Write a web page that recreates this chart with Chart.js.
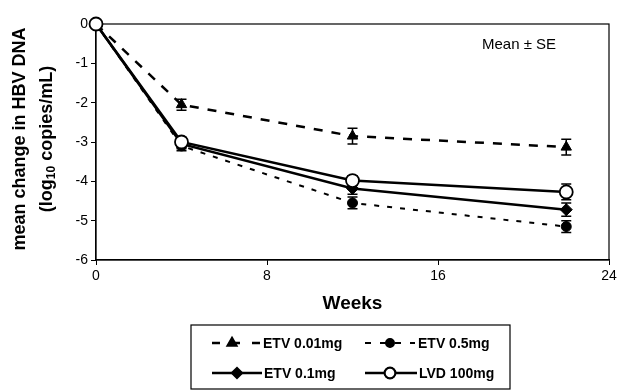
<!DOCTYPE html>
<html>
<head>
<meta charset="utf-8">
<script src="https://cdn.jsdelivr.net/npm/chart.js@4/dist/chart.umd.min.js"></script>
<style>
html, body { margin: 0; padding: 0; background: #fff; }
#wrap { width: 621px; height: 391px; position: relative; }
</style>
</head>
<body>
<div id="wrap"><canvas id="hbvChart" width="621" height="391"></canvas></div>
<script>
// data
const weeks = [0, 4, 12, 22];
const xTicks = [0, 8, 16, 24];
const yTicks = [0, -1, -2, -3, -4, -5, -6];

const etv001 = [0, -2.05, -2.85, -3.13];
const etv001Se = [0, 0.14, 0.2, 0.2];
const etv05 = [0, -3.1, -4.55, -5.15];
const etv05Se = [0, 0.12, 0.15, 0.15];
const etv01 = [0, -3.05, -4.18, -4.72];
const etv01Se = [0, 0.12, 0.15, 0.17];
const lvd100 = [0, -3.0, -3.98, -4.27];
const lvd100Se = [0, 0.12, 0.12, 0.2];

function pts(vals) {
    return vals.map((v, i) => ({ x: weeks[i], y: v }));
}

const font = "'Liberation Sans', Arial, sans-serif";

// error bars from the scales, under the markers
const errorBars = {
    id: "errorBars",
    beforeDatasetsDraw(chart) {
        const ctx = chart.ctx;
        const xs = chart.scales.x;
        const ys = chart.scales.y;
        ctx.save();
        ctx.strokeStyle = "#000";
        ctx.lineWidth = 1.5;
        ctx.setLineDash([]);
        chart.data.datasets.forEach(ds => {
            ds.data.forEach((p, i) => {
                const se = ds.se[i];
                if (!se) return;
                const x = xs.getPixelForValue(p.x);
                const y1 = ys.getPixelForValue(p.y + se);
                const y2 = ys.getPixelForValue(p.y - se);
                ctx.beginPath();
                ctx.moveTo(x, y1); ctx.lineTo(x, y2);
                ctx.moveTo(x - 5, y1); ctx.lineTo(x + 5, y1);
                ctx.moveTo(x - 5, y2); ctx.lineTo(x + 5, y2);
                ctx.stroke();
            });
        });
        ctx.restore();
    }
};

// frame under the marks
const frame = {
    id: "frame",
    beforeDatasetsDraw(chart) {
        const ctx = chart.ctx;
        const a = chart.chartArea;
        ctx.save();
        ctx.strokeStyle = "#000";
        ctx.lineWidth = 1.2;
        ctx.strokeRect(a.left, a.top, a.right - a.left, a.bottom - a.top);
        ctx.restore();
    }
};

// axis titles, note and legend box
const extras = {
    id: "extras",
    afterDraw(chart) {
        const ctx = chart.ctx;
        const a = chart.chartArea;
        ctx.save();
        ctx.fillStyle = "#000";
        ctx.font = "15px " + font;
        ctx.textAlign = "left";
        ctx.textBaseline = "middle";
        ctx.fillText("Mean \u00b1 SE", 482, 45);

        ctx.font = "bold 19px " + font;
        ctx.textAlign = "center";
        ctx.fillText("Weeks", (a.left + a.right) / 2, 304);

        // y title, two lines
        ctx.save();
        ctx.translate(20, 139);
        ctx.rotate(-Math.PI / 2);
        ctx.font = "bold 18px " + font;
        ctx.textAlign = "center";
        ctx.fillText("mean change in HBV DNA", 0, 0);
        const p1 = "(log", sub = "10", p2 = " copies/mL)";
        const w1 = ctx.measureText(p1).width;
        const w3 = ctx.measureText(p2).width;
        ctx.font = "bold 12px " + font;
        const w2 = ctx.measureText(sub).width;
        let sx = -(w1 + w2 + w3) / 2;
        ctx.textAlign = "left";
        ctx.font = "bold 18px " + font;
        ctx.fillText(p1, sx, 27);
        ctx.font = "bold 12px " + font;
        ctx.fillText(sub, sx + w1, 32);
        ctx.font = "bold 18px " + font;
        ctx.fillText(p2, sx + w1 + w2, 27);
        ctx.restore();

        // legend
        ctx.strokeStyle = "#000";
        ctx.lineWidth = 1.2;
        ctx.strokeRect(191, 325, 319, 64);
        const spots = [
            { x1: 212, x2: 260, mx: 232, y: 343, tx: 263 },
            { x1: 365, x2: 415, mx: 390, y: 343, tx: 418 },
            { x1: 212, x2: 262, mx: 237, y: 373, tx: 264 },
            { x1: 365, x2: 417, mx: 390, y: 373, tx: 419 }
        ];
        chart.data.datasets.forEach((ds, i) => {
            const s = spots[i];
            ctx.beginPath();
            ctx.strokeStyle = "#000";
            ctx.lineWidth = ds.borderWidth;
            ctx.setLineDash(ds.legendDash || []);
            ctx.moveTo(s.x1, s.y); ctx.lineTo(s.x2, s.y);
            ctx.stroke();
            ctx.setLineDash([]);
            Chart.helpers.drawPoint(ctx, {
                pointStyle: ds.pointStyle,
                radius: ds.pointRadius * 0.8,
                borderWidth: ds.pointBorderWidth
            }, s.mx, s.y);
            ctx.fillStyle = ds.pointBackgroundColor;
            ctx.strokeStyle = "#000";
            ctx.lineWidth = ds.pointBorderWidth;
            ctx.fill();
            ctx.stroke();
            ctx.fillStyle = "#000";
            ctx.font = "bold 14px " + font;
            ctx.textAlign = "left";
            ctx.fillText(ds.label, s.tx, s.y + 1);
        });
        ctx.restore();
    }
};

new Chart(document.getElementById("hbvChart"), {
    type: "line",
    data: {
        datasets: [
            {
                label: "ETV 0.01mg", data: pts(etv001), se: etv001Se, order: 3,
                borderColor: "#000", borderWidth: 2.5, borderDash: [9, 9],
                legendDash: [8, 12], clip: false,
                pointStyle: "triangle", pointRadius: 6, pointBorderWidth: 1,
                pointBackgroundColor: "#000", pointBorderColor: "#000"
            },
            {
                label: "ETV 0.5mg", data: pts(etv05), se: etv05Se, order: 2,
                borderColor: "#000", borderWidth: 2, borderDash: [5, 8],
                legendDash: [6, 9], clip: false,
                pointStyle: "circle", pointRadius: 5, pointBorderWidth: 1,
                pointBackgroundColor: "#000", pointBorderColor: "#000"
            },
            {
                label: "ETV 0.1mg", data: pts(etv01), se: etv01Se, order: 1,
                borderColor: "#000", borderWidth: 2.5, clip: false,
                pointStyle: "rectRot", pointRadius: 6, pointBorderWidth: 1,
                pointBackgroundColor: "#000", pointBorderColor: "#000"
            },
            {
                label: "LVD 100mg", data: pts(lvd100), se: lvd100Se, order: 0,
                borderColor: "#000", borderWidth: 2.5, clip: false,
                pointStyle: "circle", pointRadius: 6.5, pointBorderWidth: 1.8,
                pointBackgroundColor: "#fff", pointBorderColor: "#000"
            }
        ]
    },
    options: {
        responsive: false,
        animation: false,
        layout: { padding: { top: 24, right: 12, left: 0, bottom: 0 } },
        plugins: { legend: { display: false }, tooltip: { enabled: false } },
        scales: {
            x: {
                type: "linear", min: 0, max: 24,
                afterBuildTicks: s => { s.ticks = xTicks.map(v => ({ value: v })); },
                afterFit: s => { s.height = 131; },
                grid: { drawOnChartArea: false, tickLength: 5, color: "#000" },
                border: { color: "#000", width: 1.2 },
                ticks: { color: "#000", font: { family: font, size: 14 }, padding: 3, maxRotation: 0 }
            },
            y: {
                min: -6, max: 0,
                afterBuildTicks: s => { s.ticks = yTicks.map(v => ({ value: v })); },
                afterFit: s => { s.width = 96; },
                grid: { drawOnChartArea: false, tickLength: 5, color: "#000" },
                border: { color: "#000", width: 1.2 },
                ticks: { color: "#000", font: { family: font, size: 14 }, padding: 3 }
            }
        }
    },
    plugins: [frame, errorBars, extras]
});
</script>
</body>
</html>
